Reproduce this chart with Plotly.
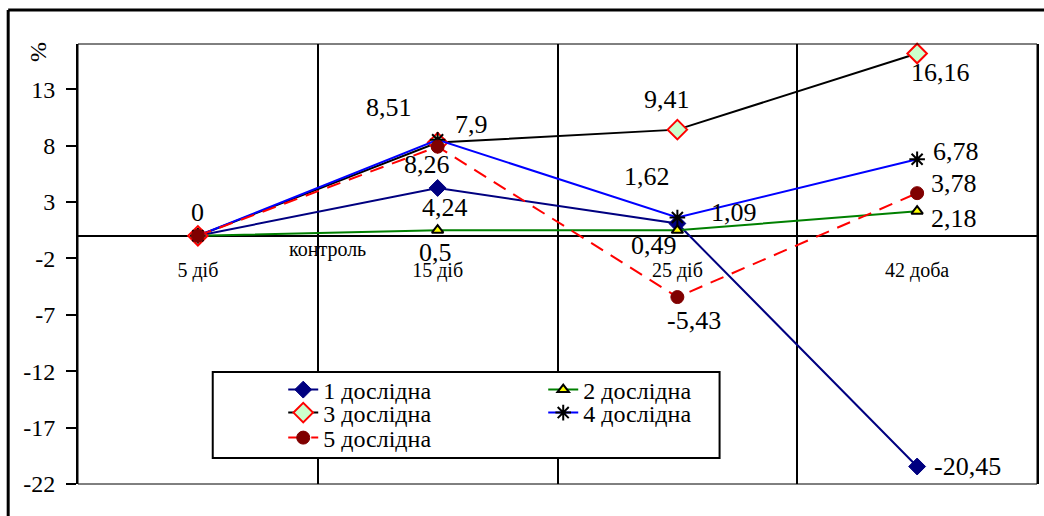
import plotly.graph_objects as go

# Periods of observation and deviation from the control group, %
periods = ["5 діб", "15 діб", "25 діб", "42 доба"]
names = ["1 дослідна", "2 дослідна", "3 дослідна", "4 дослідна", "5 дослідна"]
group1 = [0, 4.24, 1.09, -20.45]
group2 = [0, 0.5, 0.49, 2.18]
group3 = [0, 8.26, 9.41, 16.16]
group4 = [0, 8.51, 1.62, 6.78]
group5 = [0, 7.9, -5.43, 3.78]
y_ticks = [-22, -17, -12, -7, -2, 3, 8, 13]

FONT = "Times New Roman, Liberation Serif, serif"
values = [group1, group2, group3, group4, group5]

# line / marker styling per group
styles = [
    dict(line=dict(color="#000080", width=2),
         marker=dict(symbol="diamond", size=13, color="#000080",
                     line=dict(color="#000080", width=1))),
    dict(line=dict(color="#008000", width=2),
         marker=dict(symbol="triangle-up", size=10, color="#FFFF00",
                     line=dict(color="black", width=2))),
    dict(line=dict(color="black", width=2),
         marker=dict(symbol="diamond", size=15, color="#CCFFCC",
                     line=dict(color="#FF0000", width=2))),
    dict(line=dict(color="#0000FF", width=2),
         marker=dict(symbol="asterisk-open", size=13, color="black",
                     line=dict(color="black", width=2))),
    dict(line=dict(color="#FF0000", width=2, dash="14px,9px"),
         marker=dict(symbol="circle", size=13, color="#800000",
                     line=dict(color="#800000", width=1))),
]
legend_rows = ["legend", "legend", "legend2", "legend2", "legend3"]

# value-label offsets (px, right/up) for each point; None = no label
label_offsets = [
    [None, (7, -20), (57, 11), (50, 0)],
    [None, (-2, -22), (-23, -15), (37, -7)],
    [None, (-11, -22), (-10, 30), (23, -19)],
    [None, (-49, 32), (-30, 41), (39, 8)],
    [(0, 23), (34, 22), (17, -23), (37, 10)],
]

x_idx = list(range(len(periods)))

fig = go.Figure()
for name, vals, st, lg in zip(names, values, styles, legend_rows):
    fig.add_trace(go.Scatter(x=x_idx, y=vals, name=name, mode="lines+markers",
                             line=st["line"], marker=st["marker"], legend=lg,
                             cliponaxis=False))

annotations = []
for vals, offs in zip(values, label_offsets):
    for i, (v, off) in enumerate(zip(vals, offs)):
        if off is None:
            continue
        annotations.append(dict(
            x=i, y=v, xref="x", yref="y", text=f"{v:g}".replace(".", ","),
            showarrow=False, xshift=off[0], yshift=off[1],
            xanchor="center", yanchor="middle",
            font=dict(family=FONT, size=26, color="black")))

annotations.append(dict(x=0.54, y=-1.25, xref="x", yref="y", text="контроль",
                        showarrow=False, xanchor="center", yanchor="middle",
                        font=dict(family=FONT, size=20, color="black")))
annotations.append(dict(x=-0.0416, y=0.982, xref="paper", yref="paper", text="%",
                        textangle=-90, showarrow=False, xanchor="center", yanchor="middle",
                        font=dict(family=FONT, size=24, color="black")))

shapes = [
    # frame of the plot area (top and bottom edges)
    dict(type="rect", xref="paper", yref="paper", x0=0, y0=0, x1=1, y1=1,
         line=dict(color="black", width=1), layer="above"),
    # outer chart frame
    dict(type="line", xref="paper", yref="paper", x0=-0.0728, y0=1.077, x1=1.2, y1=1.077,
         line=dict(color="black", width=3)),
    dict(type="line", xref="paper", yref="paper", x0=-0.0728, y0=1.077, x1=-0.0728, y1=-0.3,
         line=dict(color="black", width=3)),
    # legend box
    dict(type="rect", xref="paper", yref="paper", x0=0.1405, y0=0.059, x1=0.669, y1=0.2545,
         line=dict(color="black", width=2), fillcolor="white", layer="above"),
]

legend_common = dict(orientation="h", xanchor="left", yanchor="middle",
                     bgcolor="rgba(0,0,0,0)", borderwidth=0,
                     font=dict(family=FONT, size=24, color="black"),
                     entrywidth=215, entrywidthmode="pixels")

fig.update_layout(
    width=1044, height=516,
    margin=dict(l=78, r=5, t=44, b=32),
    paper_bgcolor="white", plot_bgcolor="white",
    showlegend=True,
    legend=dict(x=0.214, y=0.2136, **legend_common),
    legend2=dict(x=0.214, y=0.1614, **legend_common),
    legend3=dict(x=0.214, y=0.1045, **legend_common),
    annotations=annotations,
    shapes=shapes,
    xaxis=dict(range=[-0.5, 3.5], anchor="free", position=22 / 39,
               tickmode="array", tickvals=x_idx, ticktext=periods,
               ticks="", showline=False, showgrid=False, zeroline=False,
               ticklabelstandoff=20,
               tickfont=dict(family=FONT, size=20, color="black"),
               minor=dict(tickmode="array", tickvals=[0.5, 1.5, 2.5], showgrid=True,
                          gridcolor="black", gridwidth=2, ticks="")),
    yaxis=dict(range=[-22, 17], tickmode="array", tickvals=y_ticks,
               ticktext=[str(t) for t in y_ticks],
               ticks="outside", ticklen=10, tickwidth=2, tickcolor="black",
               showline=True, linecolor="black", linewidth=2, mirror=True,
               showgrid=False, zeroline=True, zerolinecolor="black", zerolinewidth=2,
               ticklabelstandoff=6,
               tickfont=dict(family=FONT, size=24, color="black")),
)

fig.write_html("out.html")
